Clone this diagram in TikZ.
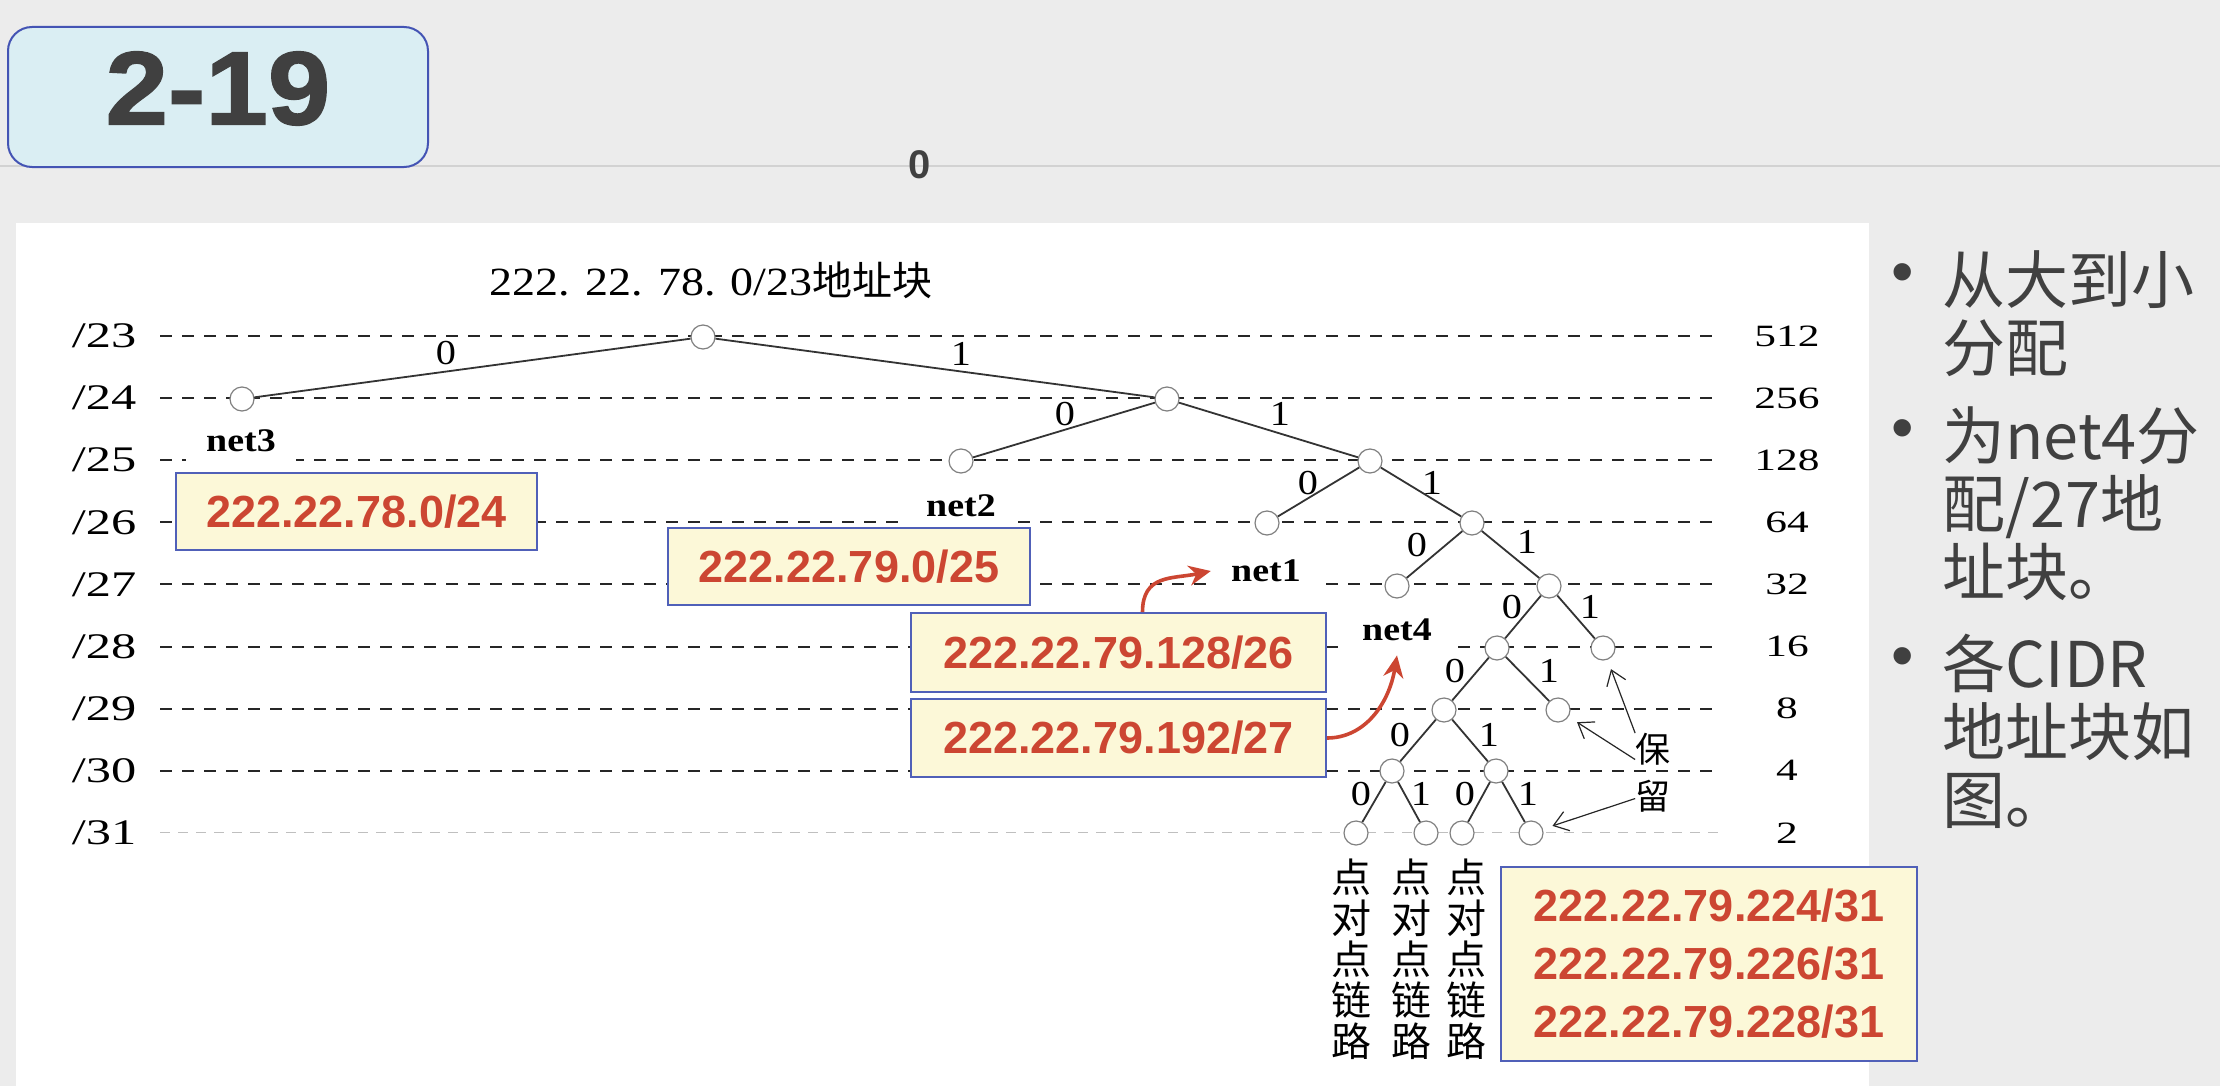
\documentclass[tikz,border=0pt]{standalone}
\usepackage{fontspec}
\setmainfont{Liberation Serif}
\setsansfont{Liberation Sans}
\newfontfamily\cjk{Noto Sans CJK SC}
\newfontfamily\wideserif[FakeStretch=1.4]{Liberation Serif}
\newfontfamily\treeserif[FakeStretch=1.15]{Liberation Serif}
\newfontfamily\heavysans[FakeBold=1.5,FakeStretch=1.08]{Liberation Sans Bold}
\usepackage{tikz}
\usetikzlibrary{arrows.meta}
\definecolor{paper}{RGB}{236,236,236}
\definecolor{titlefill}{RGB}{218,238,243}
\definecolor{titleline}{RGB}{68,84,180}
\definecolor{boxfill}{RGB}{252,248,216}
\definecolor{boxline}{RGB}{80,96,184}
\definecolor{addrred}{RGB}{204,70,50}
\definecolor{slidegray}{RGB}{64,64,64}

\begin{document}
\begin{tikzpicture}[x=0.5pt,y=-0.5pt,
    titlebox/.style={draw=titleline, fill=titlefill, line width=1pt, rounded corners=12pt, minimum width=210pt, minimum height=70pt, text depth=9pt, text=slidegray, font=\heavysans\fontsize{52pt}{52pt}\selectfont},
    prefixlbl/.style={text width=34pt, align=center, inner sep=0pt, font=\wideserif\fontsize{18pt}{18pt}\selectfont},
    sizelbl/.style={text width=36pt, align=center, inner sep=0pt, font=\wideserif\fontsize{15.5pt}{15.5pt}\selectfont},
    guide/.style={draw=black!85, line width=1pt, dash pattern=on 6pt off 5pt, shorten <=11pt, shorten >=14.5pt},
    leaf/.style={circle, draw=gray, fill=white, line width=0.6pt, minimum size=12pt, inner sep=0pt},
    branch/.style={draw=black!80, line width=0.9pt},
    bitlbl/.style={inner sep=0pt, font=\treeserif\fontsize{17.5pt}{17.5pt}\selectfont},
    netlbl/.style={fill=white, inner xsep=10pt, inner ysep=7pt, font=\treeserif\bfseries\fontsize{16.5pt}{16.5pt}\selectfont},
    addr/.style={draw=boxline, fill=boxfill, line width=1pt, text=addrred, align=center, font=\sffamily\bfseries\fontsize{22.5pt}{29pt}\selectfont},
    redarrow/.style={-{Stealth[length=11pt,width=10pt]}, draw=addrred, line width=1.8pt},
    keeparrow/.style={-{Straight Barb[length=7pt,width=10pt]}, draw=black!85, line width=0.6pt, shorten >=5pt},
    keeplbl/.style={align=center, inner sep=0pt, font=\cjk\fontsize{17.5pt}{23.5pt}\selectfont},
    ptp/.style={align=center, inner sep=0pt, font=\cjk\fontsize{20pt}{20.5pt}\selectfont},
    slidetext/.style={anchor=north west, align=left, inner sep=0pt, text=slidegray, font=\cjk\fontsize{31.5pt}{34pt}\selectfont}]
  \useasboundingbox (0,0) rectangle (2220,1086);
  \fill[paper] (0,0) rectangle (2220,1086);
  \draw[gray!35, line width=1pt] (0,166) -- (2220,166);
  \fill[white] (16,223) rectangle (1869,1086);

  \node[titlebox] (Slide) at (218,97) {2-19};
  \node[text=slidegray, font=\sffamily\bfseries\fontsize{20pt}{20pt}\selectfont] (Zero) at (920,165) {0};
  \node[font=\treeserif\fontsize{20pt}{20pt}\selectfont] (Caption) at (711,280) {222. 22. 78. 0/23{\cjk 地址块}};

  % prefix levels and block sizes
  \foreach \p/\n [count=\i from 0] in {23/512,24/256,25/128,26/64,27/32,28/16,29/8,30/4,31/2} {
    \node[prefixlbl] (L\p) at (104,336+62.1*\i) {/\p};
    \node[sizelbl] (R\p) at (1787,336+62.1*\i) {\n};
  }
  \foreach \p in {23,...,30}
    \draw[guide] (L\p) -- (R\p);
  \draw[guide, draw=gray!50, line width=0.5pt, dash pattern=on 5pt off 4pt] (L31) -- (R31);

  % tree
  \foreach \n/\x/\y in {Root/703/337, Net3/242/399, N24/1167/399, Net2/961/461, N25/1370/461,
      Net1/1267/523, N26/1472/523, Net4/1397/586, N27/1549/586, N28a/1497/648, N28b/1603/648,
      N29a/1444/710, N29b/1558/710, N30a/1392/771, N30b/1496/771,
      N31a/1356/833, N31b/1426/833, N31c/1462/833, N31d/1531/833}
    \node[leaf] (\n) at (\x,\y) {};
  \foreach \a/\b in {Root/Net3, Root/N24, N24/Net2, N24/N25, N25/Net1, N25/N26, N26/Net4, N26/N27,
      N27/N28a, N27/N28b, N28a/N29a, N28a/N29b, N29a/N30a, N29a/N30b,
      N30a/N31a, N30a/N31b, N30b/N31c, N30b/N31d}
    \draw[branch] (\a) -- (\b);
  \foreach \x/\y/\b [count=\k] in {446/353/0, 961/354/1, 1065/414/0, 1280/414/1, 1308/483/0, 1432/483/1,
      1417/545/0, 1527/542/1, 1512/607/0, 1590/607/1, 1455/671/0, 1549/671/1,
      1400/735/0, 1489/735/1, 1361/794/0, 1421/794/1, 1465/794/0, 1528/794/1}
    \node[bitlbl] (Bit\k) at (\x,\y) {\b};

  \node[netlbl] (Net3Lbl) at (241,441) {net3};
  \node[netlbl] (Net2Lbl) at (961,506) {net2};
  \node[netlbl] (Net1Lbl) at (1266,571) {net1};
  \node[netlbl] (Net4Lbl) at (1397,630) {net4};

  % address blocks
  \node[addr, minimum width=180.5pt, minimum height=38.5pt] (Box24) at (356.5,511.5) {222.22.78.0/24};
  \node[addr, minimum width=181pt, minimum height=38.5pt] (Box25) at (849,566.5) {222.22.79.0/25};
  \node[addr, minimum width=207.5pt, minimum height=39.5pt] (Box26) at (1118.5,652.5) {222.22.79.128/26};
  \node[addr, minimum width=207.5pt, minimum height=39pt] (Box27) at (1118.5,738) {222.22.79.192/27};
  \node[addr, minimum width=208pt, minimum height=97pt] (Box31) at (1709,964) {222.22.79.224/31\\222.22.79.226/31\\222.22.79.228/31};

  \draw[redarrow] ([xshift=12pt]Box26.north) .. controls +(0,-38) and +(-38,8) .. (Net1Lbl.west);
  \draw[redarrow] (Box27.east) .. controls +(38,0) and +(-8,48) .. (Net4Lbl.south);

  \node[keeplbl] (Keep) at (1653,773) {保\\留};
  \draw[keeparrow] (Keep.north west) -- (N28b);
  \draw[keeparrow] (Keep.143) -- (N29b);
  \draw[keeparrow] (Keep.235) -- (N31d);

  \foreach \k/\x in {1/1351, 2/1411, 3/1466}
    \node[ptp] (Link\k) at (\x,959) {点\\对\\点\\链\\路};

  % slide notes
  \foreach \k/\y in {1/279, 2/435, 3/663}
    \node[text=slidegray, inner sep=0pt, font=\sffamily\fontsize{32pt}{32pt}\selectfont] (Dot\k) at (1903,\y) {\textbullet};
  \node[slidetext] (Item1) at (1942,250) {从大到小\\分配};
  \node[slidetext] (Item2) at (1942,406) {为net4分\\配/27地\\址块。};
  \node[slidetext] (Item3) at (1942,634) {各CIDR\\地址块如\\图。};
\end{tikzpicture}
\end{document}
